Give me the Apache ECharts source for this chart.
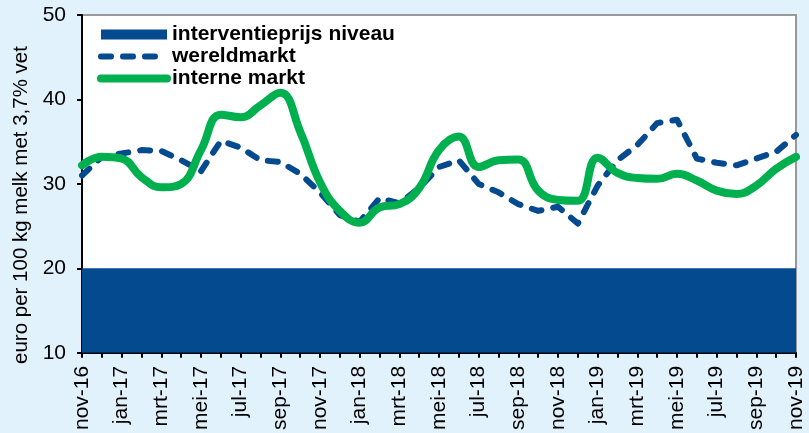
<!DOCTYPE html>
<html>
<head>
<meta charset="utf-8">
<script src="https://cdn.jsdelivr.net/npm/echarts@6/dist/echarts.min.js"></script>
<style>
  html, body { margin: 0; padding: 0; background: #e1f2fc; }
  #main { width: 809px; height: 433px; }
</style>
</head>
<body>
<div id="main"></div>
<script>
var months = ['nov-16','dec-16','jan-17','feb-17','mrt-17','apr-17','mei-17','jun-17','jul-17','aug-17',
    'sep-17','okt-17','nov-17','dec-17','jan-18','feb-18','mrt-18','apr-18','mei-18','jun-18',
    'jul-18','aug-18','sep-18','okt-18','nov-18','dec-18','jan-19','feb-19','mrt-19','apr-19',
    'mei-19','jun-19','jul-19','aug-19','sep-19','okt-19','nov-19'];

var interventie = [20,20,20,20,20,20,20,20,20,20,20,20,20,20,20,20,20,20,20,20,
    20,20,20,20,20,20,20,20,20,20,20,20,20,20,20,20,20];

var wereldmarkt = [31.0,33.2,33.6,34.0,33.9,32.8,31.5,35.1,34.3,32.8,
    32.6,31.2,29.0,26.3,25.5,28.3,27.7,29.5,32.0,32.8,
    30.0,29.0,27.6,26.8,27.3,25.3,29.8,32.8,34.6,37.2,
    37.6,33.0,32.5,32.2,33.0,33.8,35.8];

var interne = [32.2,33.2,33.0,30.8,29.6,30.0,34.0,38.2,37.9,39.3,
    40.8,36.2,30.2,26.8,25.4,27.2,27.6,29.5,34.0,35.6,
    32.0,32.8,32.9,29.2,28.1,28.0,33.1,31.3,30.7,30.6,
    31.2,30.4,29.2,28.8,29.8,31.8,33.2];

var yTicks = [10, 20, 30, 40, 50];

var blauw = '#034a8f';
var groen = '#00b04f';
var font = 'Liberation Sans, Arial, sans-serif';

var myChart = echarts.init(document.getElementById('main'));
var option = {
    backgroundColor: '#e1f2fc',
    animation: false,
    grid: {
        left: 82, right: 13, top: 15, bottom: 80,
        show: true,
        backgroundColor: '#ffffff',
        borderColor: '#999999',
        borderWidth: 2
    },
    legend: {
        orient: 'vertical',
        left: 92,
        top: 19,
        itemWidth: 66,
        itemHeight: 10,
        itemGap: 1,
        textStyle: { fontFamily: font, fontSize: 21, fontWeight: 'bold', color: '#000', lineHeight: 21 },
        data: [
            { name: 'interventieprijs niveau', icon: 'rect', itemStyle: { color: blauw }, lineStyle: { width: 0 } },
            { name: 'wereldmarkt', itemStyle: { opacity: 0 }, lineStyle: { width: 6, type: [10, 12], cap: 'round', color: blauw } },
            { name: 'interne markt', itemStyle: { opacity: 0 }, lineStyle: { width: 8, cap: 'round', color: groen } }
        ]
    },
    xAxis: {
        type: 'category',
        data: months,
        boundaryGap: false,
        axisLine: { lineStyle: { color: '#000', width: 2 } },
        axisTick: { interval: 0, length: 5, lineStyle: { color: '#000', width: 2 } },
        axisLabel: { interval: 1, rotate: 90, margin: 13, fontFamily: font, fontSize: 21, color: '#000' },
        splitLine: { show: false }
    },
    yAxis: {
        type: 'value',
        min: yTicks[0],
        max: yTicks[yTicks.length - 1],
        interval: 10,
        axisLine: { show: true, lineStyle: { color: '#000', width: 2 } },
        axisTick: { show: true, length: 5, lineStyle: { color: '#000', width: 2 } },
        axisLabel: { margin: 16, fontFamily: font, fontSize: 21, color: '#000' },
        splitLine: { show: false }
    },
    graphic: [{
        type: 'text',
        x: 21,
        y: 205,
        rotation: Math.PI / 2,
        style: {
            text: 'euro per 100 kg melk met 3,7% vet',
            fontFamily: font,
            fontSize: 20.5,
            fill: '#000',
            align: 'center',
            verticalAlign: 'middle'
        }
    }],
    series: [{
        name: 'interventieprijs niveau',
        type: 'line',
        data: interventie,
        symbol: 'none',
        lineStyle: { width: 0, color: blauw },
        itemStyle: { color: blauw },
        areaStyle: { color: blauw, opacity: 1, origin: 'start' },
        z: 1
    }, {
        name: 'wereldmarkt',
        type: 'line',
        data: wereldmarkt,
        symbol: 'none',
        lineStyle: { width: 6, type: [10, 12], cap: 'round', join: 'round', color: blauw },
        itemStyle: { color: blauw },
        z: 2
    }, {
        name: 'interne markt',
        type: 'line',
        data: interne,
        symbol: 'none',
        smooth: 0.45,
        lineStyle: { width: 8, cap: 'round', color: groen },
        itemStyle: { color: groen },
        z: 3
    }]
};
myChart.setOption(option);
</script>
</body>
</html>
